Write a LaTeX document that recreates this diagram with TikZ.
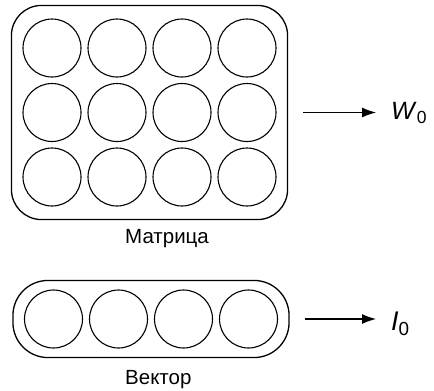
\documentclass[tikz,border=0pt]{standalone}
\usepackage{fontspec}
\setmainfont{Liberation Sans}
\usetikzlibrary{arrows.meta, positioning, fit}

\begin{document}
\begin{tikzpicture}[
        x=1pt, y=-1pt,
        cell/.style={circle, draw=black, line width=1.1pt, minimum size=58pt, inner sep=0pt},
        frame/.style={rectangle, draw=black, line width=1.3pt, rounded corners=30pt, inner xsep=11pt},
        lbl/.style={font=\fontsize{20.5}{24}\selectfont, inner sep=0pt},
        sym/.style={inner sep=0pt, anchor=west},
        arrow/.style={-{Latex[length=14pt, width=10pt]}, line width=1.1pt, shorten <=15pt, shorten >=15pt}
    ]
        \useasboundingbox (0,0) rectangle (434,391);

        % matrix of cells
        \foreach \r in {0,1,2}
            \foreach \c in {0,...,3}
                \node[cell] (m\r\c) at ({52+65*\c},{48+64.5*\r}) {};
        \node[frame, fit=(m00)(m23), inner ysep=13pt] (mat) {};
        \node[lbl, anchor=west] (matlbl) at (125,239) {Матрица};

        % vector of cells
        \foreach \c in {0,...,3}
            \node[cell] (v\c) at ({53.5+65*\c},319) {};
        \node[frame, fit=(v0)(v3), inner ysep=9pt, rounded corners=35pt] (vec) {};
        \node[lbl, anchor=west] (veclbl) at (125,380) {Вектор};

        % outputs
        \node[sym, font=\fontsize{25}{28}\selectfont] (w0) at (391,113) {\textit{W}\textsubscript{0}};
        \node[sym, font=\fontsize{27}{30}\selectfont] (i0) at (391,324) {\textit{I}\textsubscript{0}};

        \draw[arrow] (mat.east) -- (mat.east -| w0.west);
        \draw[arrow] (vec.east) -- (vec.east -| i0.west);

    \end{tikzpicture}
\end{document}
